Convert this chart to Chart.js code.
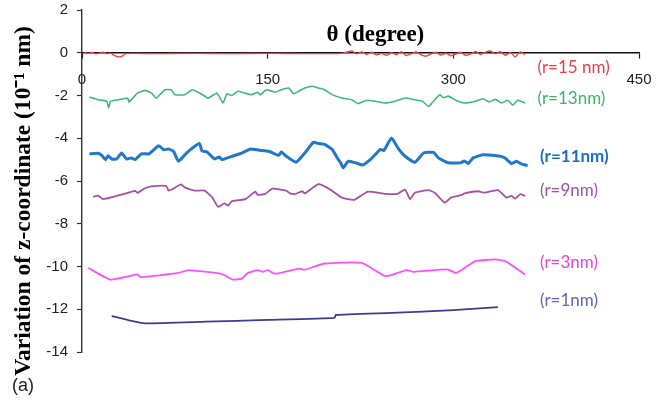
<!DOCTYPE html>
<html>
<head>
<meta charset="utf-8">
<script src="https://cdn.jsdelivr.net/npm/chart.js@4"></script>
<style>
  body { margin: 0; background: #fff; }
  #c { display: block; }
</style>
</head>
<body>
<canvas id="c" width="667" height="406"></canvas>
<script>
// values: theta (degree) and z variation (10^-1 nm)
var seriesNames = ['(r=15 nm)', '(r=13nm)', '(r=11nm)', '(r=9nm)', '(r=3nm)', '(r=1nm)'];
var xTicks = [0, 150, 300, 450];
var yTicks = [2, 0, -2, -4, -6, -8, -10, -12, -14];

var r15x = [2,5,8,11,14,17,20,23,26,29,32,35,40,60,90,120,150,180,210,218,222,226,230,234,238,242,246,250,254,258,262,266,270,274,278,282,286,290,294,298,302,306,310,314,318,322,326,330,334,338,342,346,350,354,358];
var r15y = [0.02,-0.03,0.01,-0.05,-0.02,0.03,-0.04,-0.02,-0.12,-0.19,-0.17,-0.05,-0.03,-0.04,-0.03,-0.04,-0.03,-0.04,-0.03,0.08,-0.05,0.04,-0.08,0.02,-0.1,-0.03,-0.12,0,-0.09,0.05,-0.13,-0.05,0.04,-0.1,-0.16,-0.05,0.03,-0.11,-0.02,-0.14,-0.06,0.02,-0.12,-0.05,0.06,-0.08,0.03,0.08,-0.04,0.05,-0.12,0.02,-0.2,0.04,-0.08];

var r13x = [6,13,20,21.5,23,29,37,38,45,51,56,60,67,72,75,83,89,95,102,109,114,117,121,126,131,137,142,144,149,156,161,167,171,175,180,186,191,196,202,210,218,223,230,237,245,253,261,269,275,280,284,289,292,296,302,309,318,324,329,334,339,344,348,352,358];
var r13y = [-2.07,-2.2,-2.27,-2.58,-2.27,-2.2,-2.13,-2.3,-1.88,-1.76,-1.88,-2.12,-1.73,-1.73,-1.96,-1.96,-1.73,-1.88,-2.12,-1.88,-2.35,-1.92,-2.0,-1.8,-1.88,-1.96,-1.85,-1.98,-1.73,-1.85,-1.73,-1.65,-1.92,-1.8,-1.65,-1.57,-1.65,-1.73,-1.96,-2.12,-2.2,-2.38,-2.22,-2.27,-2.35,-2.27,-2.12,-2.2,-2.27,-2.51,-2.27,-1.96,-2.1,-2.03,-2.22,-2.35,-2.27,-2.15,-2.3,-2.18,-2.35,-2.22,-2.45,-2.22,-2.35];

var r11x = [6,13,16,19,21,24,28,32,36,40,43,48,54,62,66,70,74,78,83,89,95,97,101,107,111,113,121,129,136,143,151,159,161,165,173,180,187,191,196,202,207,209,211,215,221,227,234,238,241,244,250,256,261,269,276,284,288,296,306,309,312,316,324,339,342,347,351,355,360];
var r11y = [-4.73,-4.7,-4.8,-5.0,-4.82,-4.97,-4.97,-4.69,-4.97,-4.92,-5.0,-4.73,-4.73,-4.35,-4.54,-4.5,-4.62,-5.08,-4.78,-4.47,-4.25,-4.6,-4.64,-4.97,-4.88,-5.0,-4.85,-4.7,-4.5,-4.56,-4.61,-4.8,-4.64,-4.84,-5.12,-4.69,-4.19,-4.25,-4.29,-4.52,-4.99,-5.15,-5.39,-5.08,-5.15,-5.25,-4.94,-4.7,-4.52,-4.57,-3.99,-4.52,-4.84,-5.12,-4.69,-4.66,-4.92,-5.15,-5.15,-5.06,-5.18,-4.92,-4.77,-4.85,-4.94,-5.18,-5.08,-5.2,-5.28];

var r9x = [9,13,17,31,43,45,51,56,68,70,73,80,83,91,99,105,110,115,118,121,126,132,140,142,148,154,165,168,172,178,180,191,200,210,220,231,245,255,261,265,269,280,285,293,298,307,309,320,325,336,343,347,350,354,358];
var r9y = [-6.74,-6.68,-6.85,-6.65,-6.46,-6.55,-6.34,-6.25,-6.23,-6.45,-6.38,-6.16,-6.3,-6.45,-6.45,-6.75,-7.21,-7.05,-7.15,-6.95,-6.9,-6.85,-6.5,-6.65,-6.6,-6.36,-6.45,-6.58,-6.61,-6.48,-6.58,-6.15,-6.38,-6.78,-6.88,-6.5,-6.6,-6.6,-6.4,-6.85,-6.55,-6.43,-6.55,-7.01,-6.78,-6.65,-6.58,-6.48,-6.55,-6.43,-6.78,-6.7,-6.82,-6.62,-6.7];

var r3x = [5,23,45,47,78,86,113,118,122,129,134,142,146,150,156,175,180,196,226,245,255,262,268,295,302,307,318,334,342,358];
var r3y = [-10.06,-10.61,-10.37,-10.5,-10.3,-10.17,-10.34,-10.5,-10.61,-10.57,-10.3,-10.17,-10.25,-10.17,-10.34,-10.1,-10.15,-9.86,-9.83,-10.45,-10.3,-10.17,-10.25,-10.13,-10.3,-10.15,-9.75,-9.67,-9.75,-10.37];

var r1x = [24,38,51,100,150,204,205,250,300,336];
var r1y = [-12.32,-12.52,-12.66,-12.58,-12.5,-12.4,-12.27,-12.17,-12.04,-11.9];

var lineColors = ['#f04040', '#3dba72', '#1f78c8', '#a450a8', '#ff50ff', '#3c3c98'];
var labelColors = ['#ee3b4a', '#3cb56a', '#1b6fc2', '#9b52a8', '#e244e2', '#5a64c4'];
var lineWidths = [1.4, 1.6, 3, 1.8, 1.8, 1.8];
// where each series name sits, in axis units
var labelAt = [[368, -0.7], [368, -2.15], [370, -4.86], [370, -6.45], [370, -9.81], [370, -11.59]];

function pts(xs, ys) {
  var out = [];
  for (var i = 0; i < xs.length; i++) out.push({x: xs[i], y: ys[i]});
  return out;
}
var allX = [r15x, r13x, r11x, r9x, r3x, r1x];
var allY = [r15y, r13y, r11y, r9y, r3y, r1y];

var datasets = [];
for (var i = 0; i < seriesNames.length; i++) {
  datasets.push({
    label: seriesNames[i],
    data: pts(allX[i], allY[i]),
    borderColor: lineColors[i],
    borderWidth: lineWidths[i],
    pointRadius: 0,
    tension: 0.15,
    fill: false
  });
}

var textPlugin = {
  id: 'texts',
  afterDraw: function(chart) {
    var ctx = chart.ctx, x = chart.scales.x, y = chart.scales.y;
    ctx.save();
    ctx.textBaseline = 'middle';
    ctx.textAlign = 'left';
    for (var i = 0; i < seriesNames.length; i++) {
      ctx.font = (i == 2 ? 'bold ' : '') + '17px Lato';
      ctx.fillStyle = labelColors[i];
      ctx.fillText(seriesNames[i], x.getPixelForValue(labelAt[i][0]), y.getPixelForValue(labelAt[i][1]));
    }
    ctx.fillStyle = '#000';
    ctx.textAlign = 'center';
    ctx.font = 'bold 23px "Liberation Serif"';
    ctx.fillText('θ (degree)', x.getPixelForValue(237), y.getPixelForValue(0.84));
    // y axis title
    ctx.save();
    ctx.translate(24, 201);
    ctx.rotate(-Math.PI / 2);
    ctx.font = 'bold 23.5px "Liberation Serif"';
    ctx.fillText('Variation of z-coordinate (10⁻¹ nm)', 0, 0);
    ctx.restore();
    ctx.textAlign = 'left';
    ctx.font = '18px "Liberation Sans"';
    ctx.fillStyle = '#222';
    ctx.fillText('(a)', 12, 386);
    ctx.restore();
  }
};

new Chart(document.getElementById('c'), {
  type: 'line',
  data: { datasets: datasets },
  options: {
    responsive: false,
    animation: false,
    devicePixelRatio: 1,
    layout: { padding: { top: 10, bottom: 54, right: 28, left: 0 } },
    plugins: { legend: { display: false }, tooltip: { enabled: false } },
    scales: {
      x: {
        type: 'linear',
        position: { y: 0 },
        min: 0, max: 450,
        z: 1,
        afterBuildTicks: function(s) { s.ticks = xTicks.map(function(v) { return {value: v}; }); },
        ticks: { color: '#222', font: { family: 'Liberation Sans', size: 15 }, padding: 13, maxRotation: 0 },
        grid: { display: true, drawOnChartArea: false, drawTicks: true, tickLength: 5, color: '#222', tickWidth: 1.2 },
        border: { display: true, color: '#111', width: 1.6 }
      },
      y: {
        type: 'linear',
        min: -14, max: 2,
        afterFit: function(s) { s.width = 82; s.paddingTop = 0; s.paddingBottom = 0; },
        afterBuildTicks: function(s) { s.ticks = yTicks.map(function(v) { return {value: v}; }); },
        ticks: { color: '#222', font: { family: 'Liberation Sans', size: 15 }, padding: 9 },
        grid: { display: true, drawOnChartArea: false, drawTicks: true, tickLength: 5, color: '#333', tickWidth: 1.2 },
        border: { display: true, color: '#333', width: 1.4 }
      }
    }
  },
  plugins: [textPlugin]
});
</script>
</body>
</html>
